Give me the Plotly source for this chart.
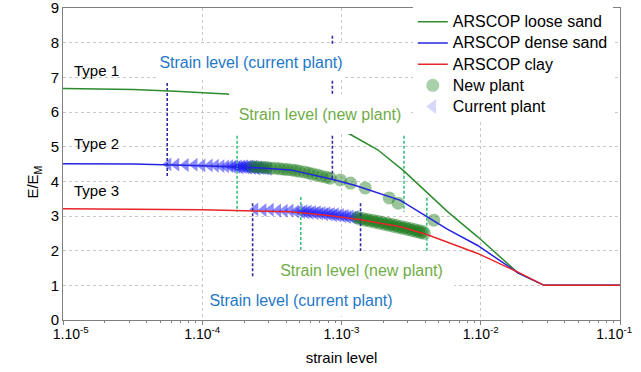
import plotly.graph_objects as go

FONT = "Liberation Sans, Arial, sans-serif"

# ---------------- data ----------------
x_tickvals = [1e-5, 1e-4, 1e-3, 1e-2, 1e-1]
x_ticktext = ["&nbsp;&nbsp;&nbsp;&nbsp;1.10<sup>-5</sup>", "1.10<sup>-4</sup>", "1.10<sup>-3</sup>",
              "1.10<sup>-2</sup>", "1.10<sup>-1</sup>&nbsp;&nbsp;&nbsp;"]

loose_strain = [1e-5, 3.2e-5, 6.4e-5, 1.5e-4, 3.2e-4, 6.3e-4, 1.16e-3, 1.82e-3, 2.8e-3, 5.8e-3, 9.5e-3, 1.85e-2, 2.85e-2, 1e-1]
loose_ratio = [6.68, 6.65, 6.60, 6.52, 6.24, 5.80, 5.35, 4.91, 4.30, 3.12, 2.40, 1.36, 1.0, 1.0]

dense_strain = [1e-5, 3.2e-5, 1e-4, 2.5e-4, 4.3e-4, 8.7e-4, 1.26e-3, 2.24e-3, 2.65e-3, 5.75e-3, 9.5e-3, 1.85e-2, 2.85e-2, 1e-1]
dense_ratio = [4.51, 4.50, 4.45, 4.39, 4.33, 4.05, 3.88, 3.55, 3.45, 2.62, 2.15, 1.36, 1.0, 1.0]

clay_strain = [1e-5, 1e-4, 4.3e-4, 8.7e-4, 1.37e-3, 2.65e-3, 4.15e-3, 9.5e-3, 1.85e-2, 2.85e-2, 1e-1]
clay_ratio = [3.21, 3.18, 3.12, 3.00, 2.89, 2.69, 2.46, 1.92, 1.38, 1.0, 1.0]

# current plant (Type 2, on dense-sand curve)
cur2_strain = [5.7e-5, 6.5e-5, 7.6e-5, 8.8e-5, 1.0e-4, 1.13e-4, 1.25e-4, 1.37e-4, 1.48e-4, 1.58e-4,
               1.66e-4, 1.72e-4, 1.78e-4, 1.83e-4, 1.88e-4, 1.93e-4, 1.98e-4, 2.03e-4, 2.07e-4, 2.12e-4,
               2.16e-4, 2.21e-4, 2.26e-4, 2.31e-4, 2.36e-4, 2.42e-4, 2.48e-4, 2.55e-4, 2.63e-4, 2.72e-4,
               2.85e-4, 3.0e-4]
cur2_ratio = [4.49, 4.48, 4.47, 4.48, 4.46, 4.46, 4.45, 4.44, 4.43, 4.44,
              4.42, 4.44, 4.41, 4.43, 4.40, 4.43, 4.41, 4.44, 4.40, 4.42,
              4.39, 4.43, 4.41, 4.38, 4.42, 4.40, 4.37, 4.41, 4.39, 4.38,
              4.37, 4.36]

# new plant (Type 2, on dense-sand curve)
new2_strain = [2.3e-4, 2.5e-4, 2.7e-4, 2.9e-4, 3.1e-4, 3.35e-4, 3.6e-4, 3.85e-4, 4.1e-4, 4.4e-4,
               4.7e-4, 5.0e-4, 5.4e-4, 5.8e-4, 6.2e-4, 6.7e-4, 7.2e-4, 7.8e-4, 8.3e-4,
               9.8e-4, 1.16e-3, 1.48e-3, 2.2e-3, 2.55e-3, 4.6e-3]
new2_ratio = [4.42, 4.41, 4.40, 4.40, 4.38, 4.38, 4.36, 4.35, 4.34, 4.33,
              4.31, 4.29, 4.27, 4.24, 4.21, 4.18, 4.15, 4.12, 4.09,
              4.04, 3.95, 3.81, 3.52, 3.37, 2.88]

# current plant (Type 3, on clay curve)
cur3_strain = [2.4e-4, 2.75e-4, 3.1e-4, 3.5e-4, 3.9e-4, 4.3e-4, 4.7e-4,
               5.0e-4, 5.2e-4, 5.4e-4, 5.6e-4, 5.8e-4, 6.0e-4,
               6.25e-4, 6.5e-4, 6.75e-4, 7.0e-4, 7.3e-4, 7.6e-4, 7.9e-4, 8.2e-4, 8.5e-4, 8.8e-4,
               9.1e-4, 9.5e-4, 9.9e-4, 1.03e-3, 1.07e-3, 1.11e-3, 1.16e-3, 1.21e-3, 1.26e-3, 1.32e-3]
cur3_ratio = [3.19, 3.17, 3.18, 3.16, 3.15, 3.16, 3.13,
              3.15, 3.11, 3.14, 3.10, 3.13, 3.09,
              3.12, 3.08, 3.11, 3.07, 3.09, 3.05, 3.08, 3.04, 3.06, 3.02,
              3.05, 3.01, 3.03, 2.99, 3.01, 2.97, 2.99, 2.95, 2.97, 2.93]

# new plant (Type 3, on clay curve)
new3_strain = [1.3e-3, 1.36e-3, 1.42e-3, 1.48e-3, 1.54e-3, 1.6e-3, 1.67e-3, 1.74e-3, 1.81e-3, 1.88e-3,
               1.96e-3, 2.04e-3, 2.12e-3, 2.2e-3, 2.29e-3, 2.38e-3, 2.47e-3, 2.57e-3, 2.67e-3, 2.77e-3,
               2.88e-3, 2.99e-3, 3.1e-3, 3.22e-3, 3.34e-3, 3.46e-3, 3.58e-3, 3.7e-3, 3.82e-3, 3.94e-3]
new3_ratio = [2.96, 2.91, 2.93, 2.88, 2.90, 2.85, 2.88, 2.82, 2.85, 2.79,
              2.82, 2.76, 2.79, 2.73, 2.76, 2.70, 2.73, 2.67, 2.70, 2.64,
              2.67, 2.61, 2.64, 2.58, 2.61, 2.55, 2.58, 2.52, 2.55, 2.50]

# strain-level markers (vertical dashed lines): position, top, bottom
cur_level_strain = [5.6e-5, 8.6e-4, 2.3e-4, 1.37e-3]
cur_level_top = [6.84, 8.2, 3.37, 3.37]
cur_level_bottom = [4.10, 4.04, 1.24, 1.6]
new_level_strain = [1.78e-4, 2.81e-3, 5.1e-4, 4.1e-3]
new_level_top = [5.6, 5.6, 3.55, 3.53]
new_level_bottom = [3.12, 3.12, 1.7, 1.7]

# ---------------- figure ----------------
fig = go.Figure()

TRI_COLOR = "rgba(25,25,255,0.5)"
CIRC_COLOR = "rgba(30,125,30,0.45)"

fig.add_trace(go.Scatter(x=cur2_strain + cur3_strain, y=cur2_ratio + cur3_ratio, mode="markers",
                         showlegend=False, hoverinfo="skip",
                         marker=dict(symbol="triangle-left", size=12, color=TRI_COLOR, line=dict(width=0))))
fig.add_trace(go.Scatter(x=new2_strain + new3_strain, y=new2_ratio + new3_ratio, mode="markers",
                         showlegend=False, hoverinfo="skip",
                         marker=dict(symbol="circle", size=13, color=CIRC_COLOR, line=dict(width=0))))

for s, t, b in zip(cur_level_strain, cur_level_top, cur_level_bottom):
    fig.add_trace(go.Scatter(x=[s, s], y=[t, b], mode="lines", showlegend=False, hoverinfo="skip",
                             line=dict(color="#2e2ea0", width=1.6, dash="3px,2px")))
for s, t, b in zip(new_level_strain, new_level_top, new_level_bottom):
    fig.add_trace(go.Scatter(x=[s, s], y=[t, b], mode="lines", showlegend=False, hoverinfo="skip",
                             line=dict(color="#3cbf7c", width=1.6, dash="3px,2px")))

fig.add_trace(go.Scatter(x=loose_strain, y=loose_ratio, mode="lines", legendrank=1,
                         name='<span style="font-size:16px">ARSCOP loose sand</span>',
                         line=dict(color="#2e8b2e", width=1.5)))
fig.add_trace(go.Scatter(x=dense_strain, y=dense_ratio, mode="lines", legendrank=2,
                         name='<span style="font-size:16px">ARSCOP dense sand</span>',
                         line=dict(color="#2424e0", width=1.5)))
fig.add_trace(go.Scatter(x=clay_strain, y=clay_ratio, mode="lines", legendrank=3,
                         name='<span style="font-size:16px">ARSCOP clay</span>',
                         line=dict(color="#e8262a", width=1.5)))
# legend entries for the marker series (lighter swatches as in the original legend)
fig.add_trace(go.Scatter(x=[None], y=[None], mode="markers", legendrank=4,
                         name='<span style="font-size:16px">New plant</span>',
                         marker=dict(symbol="circle", size=13, color="rgba(40,140,40,0.4)", line=dict(width=0))))
fig.add_trace(go.Scatter(x=[None], y=[None], mode="markers", legendrank=5,
                         name='<span style="font-size:16px">Current plant</span>',
                         marker=dict(symbol="triangle-left", size=13, color="rgba(90,90,240,0.25)", line=dict(width=0))))

BLUE_TXT = "#1f78c8"
GREEN_TXT = "#70ad47"
annots = [
    dict(x=-3.650, y=7.44, text="Strain level (current plant)", color=BLUE_TXT, w=188, h=36),
    dict(x=-3.154, y=5.94, text="Strain level (new plant)", color=GREEN_TXT, w=182, h=40),
    dict(x=-2.853, y=1.44, text="Strain level (new plant)", color=GREEN_TXT, w=185, h=38),
    dict(x=-3.291, y=0.58, text="Strain level (current plant)", color=BLUE_TXT, w=196, h=32),
]
for a in annots:
    fig.add_annotation(x=a["x"], y=a["y"], xref="x", yref="y", text=a["text"], showarrow=False,
                       font=dict(family=FONT, size=16, color=a["color"]), bgcolor="white",
                       width=a["w"], height=a["h"], borderpad=0, borderwidth=0)

for txt, yy in [("Type 1", 7.21), ("Type 2", 5.10), ("Type 3", 3.75)]:
    fig.add_annotation(x=-4.935, y=yy, xref="x", yref="y", text=txt, showarrow=False, xanchor="left",
                       font=dict(family=FONT, size=15, color="black"))

# y-axis title (placed as in the original, slightly below the middle)
fig.add_annotation(x=-0.0736, y=0.442, xref="paper", yref="paper", text="E/E<sub>M</sub>", textangle=-90,
                   showarrow=False, font=dict(family=FONT, size=15, color="black"))

fig.update_layout(
    width=641, height=372,
    margin=dict(l=63, r=21, t=8, b=52, autoexpand=False),
    paper_bgcolor="white", plot_bgcolor="white",
    font=dict(family=FONT, color="black"),
    showlegend=True,
    legend=dict(x=0.628, y=1.006, xanchor="left", yanchor="top", bgcolor="white",
                font=dict(family=FONT, size=14, color="black"), itemwidth=30,
                tracegroupgap=0),
    xaxis=dict(type="log", range=[-5, -1], tickmode="array", tickvals=x_tickvals, ticktext=x_ticktext,
               showgrid=True, gridcolor="#c8c8c8", griddash="dot", gridwidth=1,
               showline=True, linecolor="#808080", linewidth=1, mirror=True,
               ticks="outside", ticklen=4, tickcolor="#808080", ticklabelstandoff=-3,
               ticklabeloverflow="allow",
               minor=dict(ticks="outside", ticklen=2, tickcolor="#808080", showgrid=False, dtick="D1"),
               tickfont=dict(family=FONT, size=14, color="black"),
               title=dict(text="strain level", font=dict(family=FONT, size=15, color="black"), standoff=11)),
    yaxis=dict(range=[0, 9], dtick=1, showgrid=True, gridcolor="#c8c8c8", griddash="dot", gridwidth=1,
               zeroline=False, showline=True, linecolor="#808080", linewidth=1, mirror=True,
               ticks="", ticklabeloverflow="allow", tickfont=dict(family=FONT, size=15, color="black")),
)

fig.write_html("out.html", config={"displayModeBar": False},
               post_script="document.body.style.margin='0';document.body.style.padding='0';")
